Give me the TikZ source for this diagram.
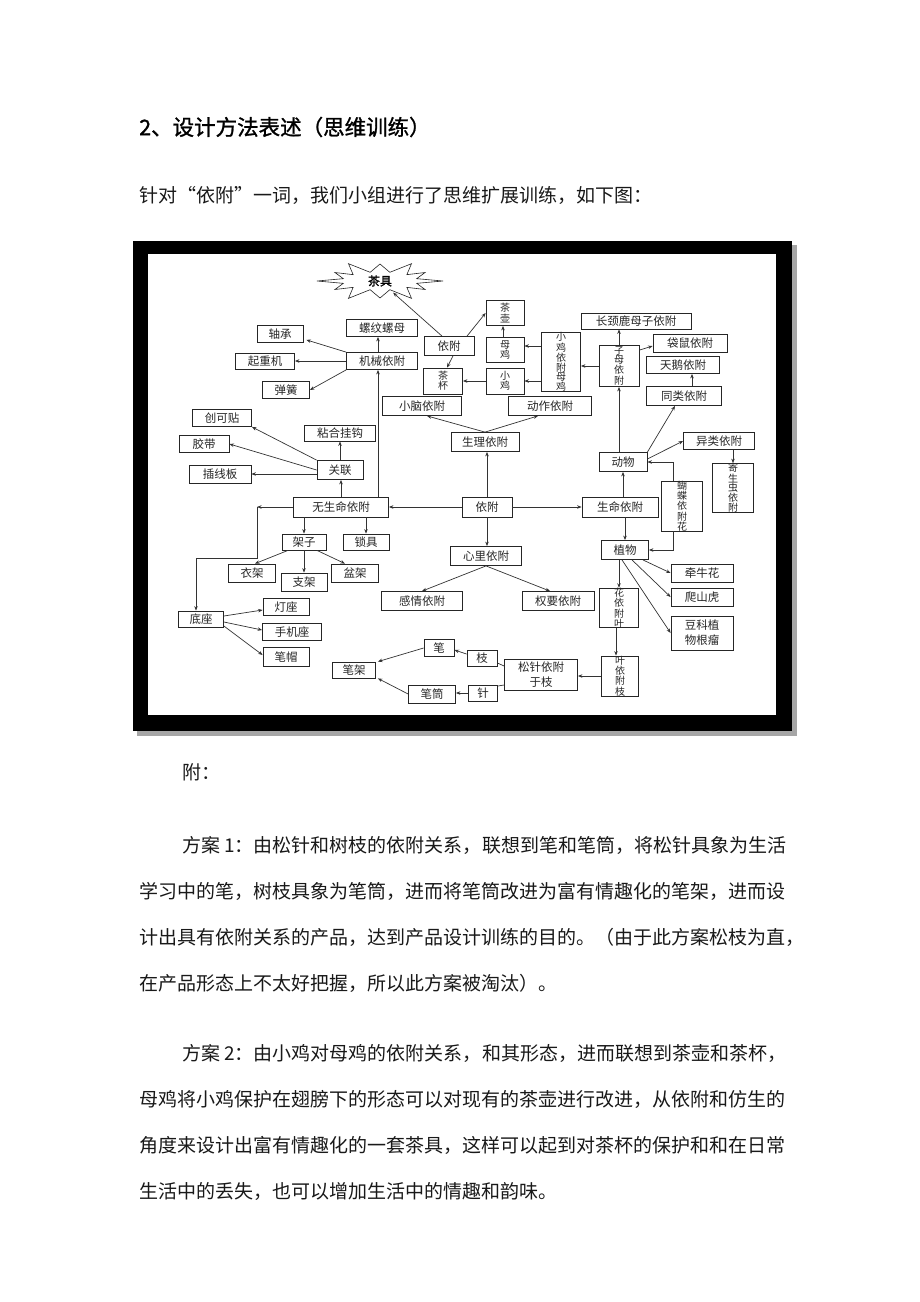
\documentclass[tikz,border=0pt]{standalone}
\usepackage{fontspec}
\setmainfont{Noto Sans CJK SC}
\newfontfamily\hei[FakeBold=1.2]{Noto Sans CJK SC}
\usetikzlibrary{arrows.meta,shapes.geometric}
\begin{document}
\begin{tikzpicture}[x=1pt,y=-1pt,
  bx/.style={draw=black!85, line width=0.8pt, fill=white, inner sep=0pt, font=\fontsize{11.5}{12}\selectfont, text=black!85},
  sz/.style 2 args={minimum width=#1pt, minimum height=#2pt},
  vt/.style={align=center, font=\fontsize{10}{9}\selectfont},
  arr/.style={draw=black!80, line width=0.7pt, -{Stealth[length=4.5pt,width=3.5pt]}},
  ln/.style={draw=black!80, line width=0.7pt},
  body/.style={anchor=west, inner sep=0pt, font=\fontsize{19}{19}\selectfont, text=black!90}]
\useasboundingbox (0,0) rectangle (920,1302);
\fill[white] (0,0) rectangle (920,1302);
% page text
\node[anchor=west, inner sep=0pt, font=\hei\fontsize{21.5}{21.5}\selectfont] (title) at (139,127) {2、设计方法表述（思维训练）};
\node[body] (sub) at (139,195) {针对“依附”一词，我们小组进行了思维扩展训练，如下图：};
% frame
\fill[black!35] (137,245) rectangle (797,736);
\fill[black] (133,241) rectangle (792,731);
\fill[white] (148,254) rectangle (776,715);
% starburst
\draw[line width=0.6pt, draw=black!85, fill=white] plot[samples at={0,1,...,23}, variable=\k]
  ({380+cos(\k*15)*(mod(\k,2)==0 ? (mod(\k,4)==0 ? 63 : 52) : 38)},
   {281+sin(\k*15)*(mod(\k,2)==0 ? (mod(\k,4)==0 ? 20 : 17) : 9)}) -- cycle;
\node[ellipse, minimum width=86pt, minimum height=24pt, inner sep=0pt, font=\hei\fontsize{12}{12}\selectfont] (cj) at (380,281) {茶具};
% nodes
\node[bx, sz={71}{17}] (lwlm) at (382,328) {螺纹螺母};
\node[bx, sz={46}{17}] (zc) at (280,334) {轴承};
\node[bx, sz={59}{16}] (qzj) at (265,361) {起重机};
\node[bx, sz={71}{17}] (jxyf) at (382,361) {机械依附};
\node[bx, sz={47}{17}] (th) at (286,390) {弹簧};
\node[bx, sz={50}{19}] (tyf) at (449,346) {依附};
\node[bx, vt, sz={39}{26}] (cb) at (443,381) {茶\\杯};
\node[bx, vt, sz={38}{25}] (ch) at (505,313) {茶\\壶};
\node[bx, vt, sz={38}{25}] (mj) at (505,350) {母\\鸡};
\node[bx, vt, sz={38}{26}] (xj) at (505,381) {小\\鸡};
\node[bx, vt, sz={39}{58}] (xjmj) at (561,362) {小\\鸡\\依\\附\\母\\鸡};
\node[bx, sz={110}{16}] (cjl) at (636,321) {长颈鹿母子依附};
\node[bx, vt, sz={40}{41}] (zmyf) at (619,366) {子\\母\\依\\附};
\node[bx, sz={74}{18}] (ds) at (690,343) {袋鼠依附};
\node[bx, sz={73}{17}] (te) at (683,365) {天鹅依附};
\node[bx, sz={75}{19}] (tl) at (684,396) {同类依附};
\node[bx, sz={79}{19}] (xn) at (422,406) {小脑依附};
\node[bx, sz={83}{19}] (dzf) at (550,406) {动作依附};
\node[bx, sz={68}{19}] (slyf) at (485,442) {生理依附};
\node[bx, sz={59}{17}] (ckt) at (222,418) {创可贴};
\node[bx, sz={71}{16}] (nhgg) at (340,433) {粘合挂钩};
\node[bx, sz={50}{17}] (jd) at (204,444) {胶带};
\node[bx, sz={46}{19}] (gl) at (340,470) {关联};
\node[bx, sz={62}{18}] (cxb) at (220,474) {插线板};
\node[bx, sz={95}{20}] (wsm) at (341,507) {无生命依附};
\node[bx, sz={50}{20}] (yf) at (487,507) {依附};
\node[bx, sz={76}{20}] (sm) at (620,507) {生命依附};
\node[bx, sz={48}{19}] (dw) at (623,462) {动物};
\node[bx, sz={71}{17}] (yl) at (719,441) {异类依附};
\node[bx, vt, sz={41}{48}] (jsc) at (733,488) {寄\\生\\虫\\依\\附};
\node[bx, vt, sz={41}{47}] (hd) at (682,506) {蝴\\蝶\\依\\附\\花};
\node[bx, sz={44}{16}] (jz) at (304,542) {架子};
\node[bx, sz={46}{16}] (sj) at (366,542) {锁具};
\node[bx, sz={71}{19}] (xl) at (486,556) {心里依附};
\node[bx, sz={47}{19}] (zw) at (625,550) {植物};
\node[bx, sz={47}{18}] (yj) at (252,573) {衣架};
\node[bx, sz={46}{18}] (zj) at (304,582) {支架};
\node[bx, sz={47}{18}] (pj) at (355,573) {盆架};
\node[bx, sz={45}{16}] (dzuo) at (201,619) {底座};
\node[bx, sz={46}{17}] (dengz) at (286,607) {灯座};
\node[bx, sz={59}{17}] (sjz) at (292,632) {手机座};
\node[bx, sz={46}{19}] (bm) at (286,657) {笔帽};
\node[bx, sz={81}{19}] (gq) at (422,601) {感情依附};
\node[bx, sz={72}{19}] (qy) at (558,601) {权要依附};
\node[bx, sz={62}{18}] (qnh) at (702,573) {牵牛花};
\node[bx, sz={62}{18}] (psh) at (702,597) {爬山虎};
\node[bx, sz={62}{34}, align=center, font=\fontsize{11.5}{15}\selectfont] (dk) at (702,633) {豆科植\\物根瘤};
\node[bx, vt, sz={39}{39}] (hyfy) at (619,608) {花\\依\\附\\叶};
\node[bx, vt, sz={37}{40}] (yyfz) at (620,676) {叶\\依\\附\\枝};
\node[bx, sz={30}{17}] (bi) at (439,648) {笔};
\node[bx, sz={30}{16}] (zhi) at (482,658) {枝};
\node[bx, sz={43}{16}] (bj) at (354,670) {笔架};
\node[bx, sz={73}{31}, align=center, font=\fontsize{11.5}{15}\selectfont] (szyf) at (541,675) {松针依附\\于枝};
\node[bx, sz={47}{18}] (bt) at (432,694) {笔筒};
\node[bx, sz={29}{16}] (zhen) at (483,693) {针};
% connectors
\draw[arr] (yf.north) -- (yf.north |- slyf.south);
\draw[arr] (yf.south) -- (yf.south |- xl.north);
\draw[arr] (yf.east) -- (sm.west);
\draw[arr] (yf.west) -- (wsm.east);
\draw[arr] (slyf.north) -- ([xshift=5pt]xn.south);
\draw[arr] (slyf.north) -- ([xshift=-12pt]dzf.south);
\draw[arr] (xl.south) -- (gq.north);
\draw[arr] (xl.south) -- ([xshift=-8pt]qy.north);
\draw[arr] ([xshift=37pt]wsm.north) -- ([xshift=37pt]wsm.north |- jxyf.south);
\draw[arr] (wsm.north) -- (wsm.north |- gl.south);
\draw[arr] (gl.north) -- (nhgg.south);
\draw[arr] (gl.north west) -- (ckt.south east);
\draw[arr] (gl.west) -- (jd.east);
\draw[arr] (cxb.east -| gl.west) -- (cxb.east);
\draw[arr] ([xshift=-4pt]jxyf.north) -- ([xshift=-4pt]lwlm.south);
\draw[arr] (jxyf.north west) -- ([xshift=3pt,yshift=3pt]zc.south east);
\draw[arr] (jxyf.west) -- (qzj.east);
\draw[arr] (jxyf.south west) -- (th.east);
\coordinate (c1) at (257,507);
\coordinate (c2) at (257,558);
\coordinate (c3) at (196,558);
\draw[arr] (wsm.west) -- (c1);
\draw[arr] (c1) -- (c2) -- (c3) -- (c3 |- dzuo.north);
\draw[arr] (jz.north |- wsm.south) -- (jz.north);
\draw[arr] (sj.north |- wsm.south) -- (sj.north);
\draw[arr] ([xshift=-16pt]jz.south) -- ([xshift=3pt]yj.north);
\draw[arr] (jz.south) -- (zj.north);
\draw[arr] ([xshift=13pt]jz.south) -- ([xshift=-10pt]pj.north);
\draw[arr] ([yshift=3pt]dzuo.east) -- ([yshift=-3pt]dengz.west);
\draw[arr] ([yshift=-3pt]dzuo.east) -- ([yshift=2pt]sjz.west);
\draw[arr] ([yshift=-7pt]dzuo.east) -- ([yshift=2pt]bm.west);
\draw[arr] (dw.south |- sm.north) -- (dw.south);
\draw[arr] (zw.north |- sm.south) -- (zw.north);
\draw[arr] (zmyf.south |- dw.north) -- (zmyf.south);
\draw[arr] (zmyf.north) -- (zmyf.north |- cjl.south);
\draw[arr] ([yshift=-5pt]zmyf.north east) -- ([yshift=-3pt]ds.west);
\draw[arr] (zmyf.west) -- (zmyf.west -| xjmj.east);
\draw[arr] ([yshift=4pt]mj.east -| xjmj.west) -- ([yshift=4pt]mj.east);
\draw[arr] (xj.east -| xjmj.west) -- (xj.east);
\draw[arr] (xj.west) -- (cb.east);
\draw[arr] ([xshift=-2pt]mj.north) -- ([xshift=-2pt]ch.south);
\draw[arr] ([xshift=-7pt]tyf.north) -- (cj);
\draw[arr] ([xshift=18pt]tyf.north) -- (ch.west);
\draw[arr] ([xshift=4pt]tyf.south) -- ([xshift=4pt]cb.north);
\draw[arr] (dw.north east) -- ([xshift=-9pt]tl.south);
\draw[arr] ([xshift=8pt]tl.north) -- ([xshift=8pt]tl.north |- te.south);
\draw[arr] ([yshift=3pt]dw.east) -- (yl.west);
\draw[arr] (jsc.north |- yl.south) -- (jsc.north);
\draw[arr] ([xshift=-9pt]hd.north) |- (dw.east);
\draw[arr] ([xshift=-9pt]hd.south) |- (zw.east);
\draw[arr] (hyfy.north |- zw.south) -- (hyfy.north);
\draw[arr] ([xshift=-6pt]zw.south east) -- (qnh.west);
\draw[arr] ([xshift=7pt]zw.south) -- (psh.west);
\draw[arr] ([xshift=-3pt]zw.south) -- (dk.west);
\draw[arr] ([xshift=-3pt]hyfy.south) -- ([xshift=-3pt]hyfy.south |- yyfz.north);
\draw[arr] (yyfz.west) -- (yyfz.west -| szyf.east);
\draw[ln] ([yshift=-5pt]zhi.east) -- ([yshift=9pt]szyf.west);
\draw[ln] ([yshift=7pt]zhen.east) -- ([yshift=-10pt]szyf.west);
\draw[arr] ([yshift=4pt]zhi.west) -- ([yshift=-2pt]bi.east);
\draw[arr] (zhen.west) -- (zhen.west -| bt.east);
\draw[arr] (bi.west) -- ([xshift=2pt]bj.north east);
\draw[arr] (bt.west) -- ([xshift=2pt]bj.south east);
% body text
\node[body] (fu) at (182,772) {附：};
\node[body] (p1a) at (182,845) {方案 1：由松针和树枝的依附关系，联想到笔和笔筒，将松针具象为生活};
\node[body] (p1b) at (139,891) {学习中的笔，树枝具象为笔筒，进而将笔筒改进为富有情趣化的笔架，进而设};
\node[body] (p1c) at (139,937) {计出具有依附关系的产品，达到产品设计训练的目的。（由于此方案松枝为直，};
\node[body] (p1d) at (139,983) {在产品形态上不太好把握，所以此方案被淘汰）。};
\node[body] (p2a) at (182,1053) {方案 2：由小鸡对母鸡的依附关系，和其形态，进而联想到茶壶和茶杯，};
\node[body] (p2b) at (139,1099) {母鸡将小鸡保护在翅膀下的形态可以对现有的茶壶进行改进，从依附和仿生的};
\node[body] (p2c) at (139,1145) {角度来设计出富有情趣化的一套茶具，这样可以起到对茶杯的保护和和在日常};
\node[body] (p2d) at (139,1191) {生活中的丢失，也可以增加生活中的情趣和韵味。};
\end{tikzpicture}
\end{document}
